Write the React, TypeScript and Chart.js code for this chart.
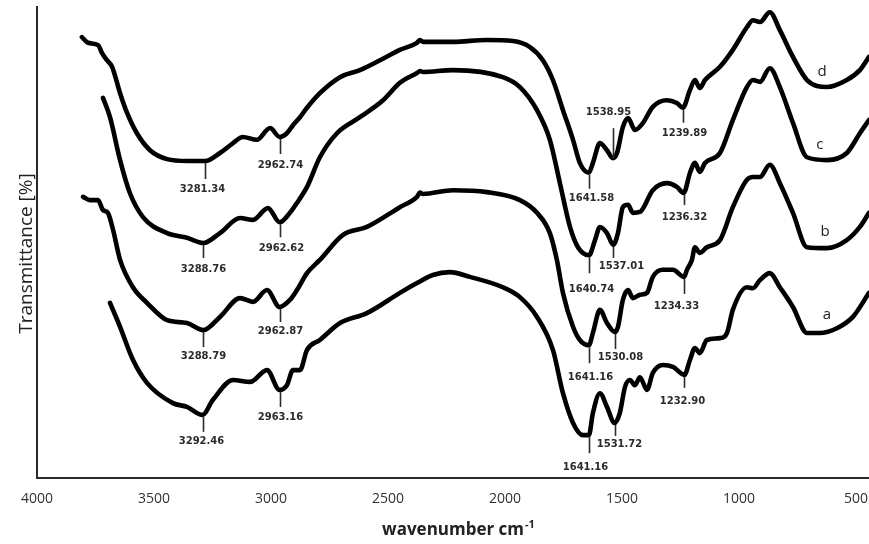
import React, { useEffect, useRef } from "react";
import { Chart, registerables } from "chart.js";

Chart.register(...registerables);

type Pt = [number, number];

// FTIR spectra: [wavenumber (cm-1), transmittance (arbitrary %, offset per trace)]
const spectrumD: Pt[] = [
  [3808, 93.6], [3782, 92.4], [3739, 91.9], [3722, 90.2], [3701, 88.7], [3679, 87.3],
  [3645, 81.7], [3615, 77.5], [3573, 73.2], [3517, 69.6], [3444, 67.7], [3359, 67.3],
  [3281.34, 67.3], [3218, 69.0], [3162, 71.1], [3120, 72.4], [3060, 71.8], [3004, 74.3],
  [2962.74, 72.4], [2932, 73.2], [2906, 74.9], [2876, 76.6], [2846, 78.6], [2791, 81.7],
  [2705, 85.1], [2620, 86.6], [2534, 88.7], [2449, 90.9], [2376, 92.4], [2363, 93.0],
  [2350, 92.6], [2222, 92.6], [2077, 93.0], [1966, 92.8], [1893, 91.5], [1838, 88.7],
  [1795, 84.5], [1752, 78.1], [1709, 71.8], [1680, 66.9], [1641.58, 64.8], [1624, 66.9],
  [1594, 71.1], [1564, 69.6], [1538.95, 67.9], [1521, 69.0], [1496, 74.5], [1474, 76.4],
  [1444, 73.9], [1410, 75.4], [1368, 78.8], [1308, 80.2], [1265, 79.6], [1239.89, 78.6],
  [1209, 82.4], [1188, 84.5], [1167, 82.8], [1145, 84.5], [1081, 87.3], [1026, 90.9],
  [966, 95.7], [940, 97.2], [910, 96.8], [868, 98.9], [825, 95.1], [769, 89.4],
  [709, 84.5], [624, 83.0], [539, 84.5], [483, 86.6], [444, 89.4],
];

const spectrumC: Pt[] = [
  [3718, 80.7], [3688, 76.6], [3645, 67.5], [3603, 60.5], [3547, 55.4], [3444, 52.0],
  [3359, 51.0], [3288.76, 49.9], [3218, 52.0], [3132, 55.2], [3077, 54.8], [3013, 57.3],
  [2962.62, 54.3], [2919, 56.3], [2889, 58.4], [2846, 61.8], [2791, 68.1], [2718, 73.2],
  [2620, 76.6], [2521, 80.2], [2449, 83.9], [2376, 86.0], [2363, 86.4], [2350, 86.2],
  [2222, 86.6], [2009, 85.1], [1936, 83.0], [1863, 78.1], [1808, 71.8], [1765, 62.6],
  [1722, 53.3], [1688, 49.0], [1640.74, 47.3], [1615, 50.5], [1594, 53.3], [1564, 52.0],
  [1537.01, 49.5], [1517, 52.0], [1496, 57.5], [1474, 58.0], [1453, 56.3], [1423, 56.5],
  [1368, 61.1], [1308, 62.6], [1265, 61.8], [1236.32, 60.5], [1209, 64.8], [1188, 66.9],
  [1167, 65.0], [1145, 66.9], [1081, 69.0], [1026, 76.0], [966, 83.0], [940, 84.5],
  [910, 84.1], [868, 87.0], [825, 83.0], [769, 75.4], [709, 68.1], [624, 67.5],
  [539, 69.0], [483, 73.2], [444, 76.0],
];

const spectrumB: Pt[] = [
  [3803, 59.7], [3774, 59.0], [3739, 59.0], [3718, 56.9], [3697, 56.3], [3675, 52.7],
  [3645, 46.3], [3590, 40.5], [3530, 37.2], [3444, 33.5], [3359, 32.9], [3288.79, 31.4],
  [3218, 34.2], [3132, 38.2], [3077, 37.4], [3017, 39.9], [2962.87, 36.3], [2919, 37.8],
  [2889, 39.9], [2846, 43.5], [2791, 46.3], [2692, 51.6], [2590, 53.3], [2449, 57.5],
  [2376, 59.7], [2363, 60.6], [2350, 60.3], [2222, 61.1], [2077, 60.7], [1936, 59.0],
  [1863, 56.3], [1808, 52.0], [1778, 46.3], [1752, 39.3], [1709, 32.1], [1680, 29.3],
  [1641.16, 28.2], [1624, 30.8], [1594, 35.7], [1564, 32.9], [1530.08, 31.0], [1517, 32.1],
  [1496, 37.8], [1474, 39.9], [1453, 38.2], [1423, 38.9], [1393, 39.3], [1368, 42.7],
  [1325, 44.2], [1282, 44.2], [1234.33, 42.7], [1222, 44.2], [1201, 46.3], [1188, 49.0],
  [1167, 47.8], [1137, 49.0], [1081, 50.5], [1026, 57.5], [966, 63.3], [940, 63.9],
  [910, 63.9], [868, 66.5], [825, 62.6], [769, 56.3], [709, 49.0], [624, 48.8],
  [539, 50.5], [483, 53.3], [444, 56.3],
];

const spectrumA: Pt[] = [
  [3688, 37.2], [3645, 32.1], [3590, 25.1], [3530, 20.2], [3419, 15.9], [3359, 15.1],
  [3292.46, 13.4], [3248, 16.6], [3162, 20.8], [3090, 20.4], [3017, 22.9], [2963.16, 18.7],
  [2932, 19.7], [2906, 22.9], [2876, 22.9], [2846, 27.2], [2791, 29.3], [2705, 32.9],
  [2590, 35.0], [2449, 39.3], [2376, 41.4], [2308, 43.1], [2235, 43.7], [2150, 42.7],
  [2009, 40.5], [1936, 38.4], [1863, 34.2], [1795, 27.2], [1752, 18.0], [1709, 11.7],
  [1667, 9.1], [1641.16, 9.1], [1624, 13.8], [1594, 18.0], [1564, 15.1], [1531.72, 11.7],
  [1509, 13.8], [1487, 19.3], [1466, 20.8], [1444, 19.7], [1423, 21.4], [1393, 18.7],
  [1368, 22.3], [1325, 24.0], [1282, 23.6], [1232.9, 21.9], [1209, 25.1], [1188, 27.6],
  [1167, 26.5], [1137, 29.3], [1081, 29.7], [1051, 30.8], [1026, 35.7], [966, 40.5],
  [940, 40.3], [910, 42.0], [868, 43.5], [825, 40.5], [769, 36.3], [709, 30.8],
  [654, 30.8], [581, 31.8], [513, 34.2], [444, 39.3],
];

// Assigned band positions (cm-1) marked on each trace
const peaksD = [3281.34, 2962.74, 1641.58, 1538.95, 1239.89];
const peaksC = [3288.76, 2962.62, 1640.74, 1537.01, 1236.32];
const peaksB = [3288.79, 2962.87, 1641.16, 1530.08, 1234.33];
const peaksA = [3292.46, 2963.16, 1641.16, 1531.72, 1232.9];

const traceNames = ["a", "b", "c", "d"];
const xTicks = [4000, 3500, 3000, 2500, 2000, 1500, 1000, 500];

// where each trace letter sits, [wavenumber, transmittance]
const traceTagAt: Pt[] = [[624, 34.6], [632, 52.2], [654, 70.7], [645, 86.2]];

// callout drawing: stem length (px, negative = upward), label offset from stem end
const calloutLayout: Record<string, { len: number; dx: number; dy: number }> = {
  "d3281.34": { len: 16, dx: -3, dy: 10 },
  "d2962.74": { len: 15, dx: 0, dy: 11 },
  "d1641.58": { len: 14, dx: 2, dy: 10 },
  "d1538.95": { len: -30, dx: -5, dy: -16 },
  "d1239.89": { len: 13, dx: 1, dy: 11 },
  "c3288.76": { len: 13, dx: 0, dy: 11 },
  "c2962.62": { len: 13, dx: 1, dy: 11 },
  "c1640.74": { len: 16, dx: 2, dy: 16 },
  "c1537.01": { len: 11, dx: 8, dy: 9 },
  "c1236.32": { len: 10, dx: 0, dy: 12 },
  "b3288.79": { len: 15, dx: 0, dy: 9 },
  "b2962.87": { len: 13, dx: 0, dy: 9 },
  "b1641.16": { len: 16, dx: 1, dy: 14 },
  "b1530.08": { len: 15, dx: 5, dy: 8 },
  "b1234.33": { len: 15, dx: -8, dy: 13 },
  "a3292.46": { len: 15, dx: -2, dy: 10 },
  "a2963.16": { len: 15, dx: 0, dy: 10 },
  "a1641.16": { len: 16, dx: -4, dy: 14 },
  "a1531.72": { len: 11, dx: 4, dy: 9 },
  "a1232.90": { len: 11, dx: -2, dy: 14 },
};

const spectra = [spectrumA, spectrumB, spectrumC, spectrumD];
const peaks = [peaksA, peaksB, peaksC, peaksD];

function valueAt(series: Pt[], wn: number): number {
  for (let i = 0; i < series.length - 1; i++) {
    const [x0, y0] = series[i];
    const [x1, y1] = series[i + 1];
    if (wn <= x0 && wn >= x1) {
      const t = x0 === x1 ? 0 : (x0 - wn) / (x0 - x1);
      return y0 + (y1 - y0) * t;
    }
  }
  return series[series.length - 1][1];
}

const annotationPlugin = {
  id: "bandCallouts",
  afterDatasetsDraw(chart: any) {
    const { ctx } = chart;
    const xs = chart.scales.x;
    const ys = chart.scales.y;
    ctx.save();
    ctx.strokeStyle = "#2b2b2b";
    ctx.fillStyle = "#2b2b2b";
    ctx.lineWidth = 1.6;
    ctx.font = "bold 10px 'DejaVu Sans'";
    ctx.textAlign = "center";
    ctx.textBaseline = "middle";
    spectra.forEach((series, si) => {
      peaks[si].forEach((wn) => {
        const text = wn.toFixed(2);
        const lay = calloutLayout[traceNames[si] + text] || { len: 15, dx: 0, dy: 11 };
        const px = Math.round(xs.getPixelForValue(wn)) + 0.5;
        const py = ys.getPixelForValue(valueAt(series, wn));
        const start = lay.len >= 0 ? py + 2 : py;
        const end = start + lay.len;
        ctx.beginPath();
        ctx.moveTo(px, start);
        ctx.lineTo(px, end);
        ctx.stroke();
        ctx.fillText(text, px + lay.dx, end + lay.dy);
      });
    });

    ctx.font = "15px 'Open Sans'";
    ctx.fillStyle = "#222";
    traceTagAt.forEach(([wn, v], i) => {
      ctx.fillText(traceNames[i], xs.getPixelForValue(wn), ys.getPixelForValue(v));
    });
    ctx.restore();
  },
  afterDraw(chart: any) {
    const { ctx, chartArea } = chart;
    ctx.save();
    ctx.fillStyle = "#222";

    // y-axis title
    ctx.save();
    ctx.translate(32, (chartArea.top + chartArea.bottom) / 2 + 11);
    ctx.rotate(-Math.PI / 2);
    ctx.font = "19px 'Open Sans'";
    ctx.textAlign = "center";
    ctx.textBaseline = "alphabetic";
    ctx.fillText("Transmittance [%]", 0, 0);
    ctx.restore();

    // x-axis title with superscript
    const main = "wavenumber cm";
    const sup = "-1";
    ctx.font = "bold 17px 'Open Sans'";
    const wMain = ctx.measureText(main).width;
    ctx.font = "bold 11px 'Open Sans'";
    const wSup = ctx.measureText(sup).width;
    const cx = 458;
    const left = cx - (wMain + wSup) / 2;
    const base = 535;
    ctx.textAlign = "left";
    ctx.textBaseline = "alphabetic";
    ctx.font = "bold 17px 'Open Sans'";
    ctx.fillText(main, left, base);
    ctx.font = "bold 11px 'Open Sans'";
    ctx.fillText(sup, left + wMain + 1, base - 7);
    ctx.restore();
  },
};

export default function App() {
  const canvasRef = useRef<HTMLCanvasElement | null>(null);

  useEffect(() => {
    if (!canvasRef.current) return;
    const datasets = spectra.map((series, i) => ({
      label: traceNames[i],
      data: series.map(([x, y]) => ({ x, y })),
      borderColor: "#000",
      borderWidth: 4.6,
      pointRadius: 0,
      fill: false,
      cubicInterpolationMode: "monotone" as const,
      borderJoinStyle: "round" as const,
      borderCapStyle: "round" as const,
    }));

    const chart = new Chart(canvasRef.current, {
      type: "line",
      data: { datasets },
      plugins: [annotationPlugin],
      options: {
        animation: false,
        responsive: false,
        devicePixelRatio: 1,
        layout: { padding: { top: 7, right: 0, left: 0, bottom: 0 } },
        plugins: {
          legend: { display: false },
          tooltip: { enabled: false },
        },
        scales: {
          x: {
            type: "linear",
            reverse: true,
            min: 444,
            max: 4000,
            grid: { display: false, drawTicks: false },
            border: { display: true, color: "#2a2a2a", width: 2 },
            afterBuildTicks: (scale: any) => {
              scale.ticks = xTicks.map((value) => ({ value }));
            },
            afterFit: (scale: any) => {
              scale.height = 66;
              scale.paddingLeft = 0;
              scale.paddingRight = 0;
            },
            ticks: {
              padding: 13,
              color: "#333",
              font: { family: "'Open Sans'", size: 14 },
              callback: (v: any) => String(v),
            },
          },
          y: {
            type: "linear",
            min: 0,
            max: 100,
            grid: { display: false, drawTicks: false },
            border: { display: true, color: "#2a2a2a", width: 2 },
            ticks: { display: false },
            afterFit: (scale: any) => {
              scale.width = 37;
              scale.paddingTop = 0;
              scale.paddingBottom = 0;
            },
          },
        },
      },
    });
    return () => chart.destroy();
  }, []);

  return (
    <div
      style={{
        position: "fixed",
        left: 0,
        top: 0,
        width: 869,
        height: 544,
        background: "#fff",
      }}
    >
      <canvas ref={canvasRef} width={869} height={544} />
    </div>
  );
}
